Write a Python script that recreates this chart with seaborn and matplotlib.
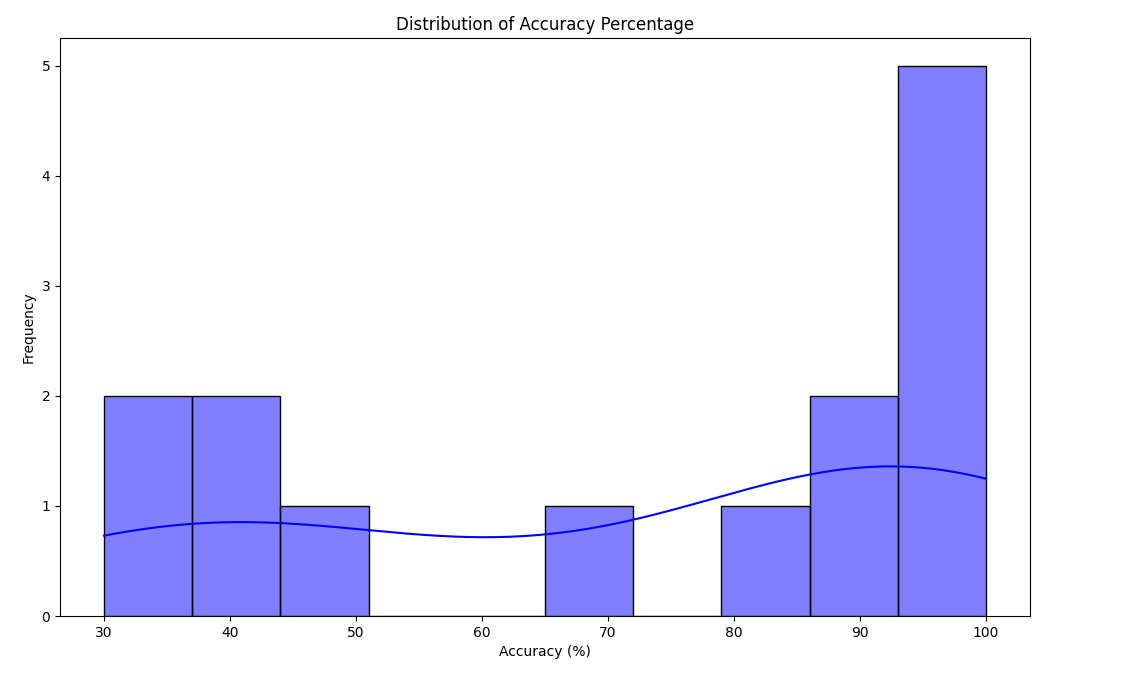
import matplotlib
matplotlib.use("Agg")
import matplotlib.pyplot as plt
import seaborn as sns
import pandas as pd

accuracy = [30, 34, 39, 42, 47, 68, 83, 88, 91, 94, 96, 98, 99, 100]
df = pd.DataFrame({"Accuracy": accuracy})

fig = plt.figure(figsize=(11.27, 6.85), dpi=100)
ax = fig.add_axes([60/1127, 1-616/685, 970/1127, 578/685])
sns.histplot(df["Accuracy"], bins=10, kde=True, color="blue", ax=ax)
ax.set_title("Distribution of Accuracy Percentage")
ax.set_xlabel("Accuracy (%)")
ax.set_ylabel("Frequency")
fig.savefig("out.png", dpi=100)
